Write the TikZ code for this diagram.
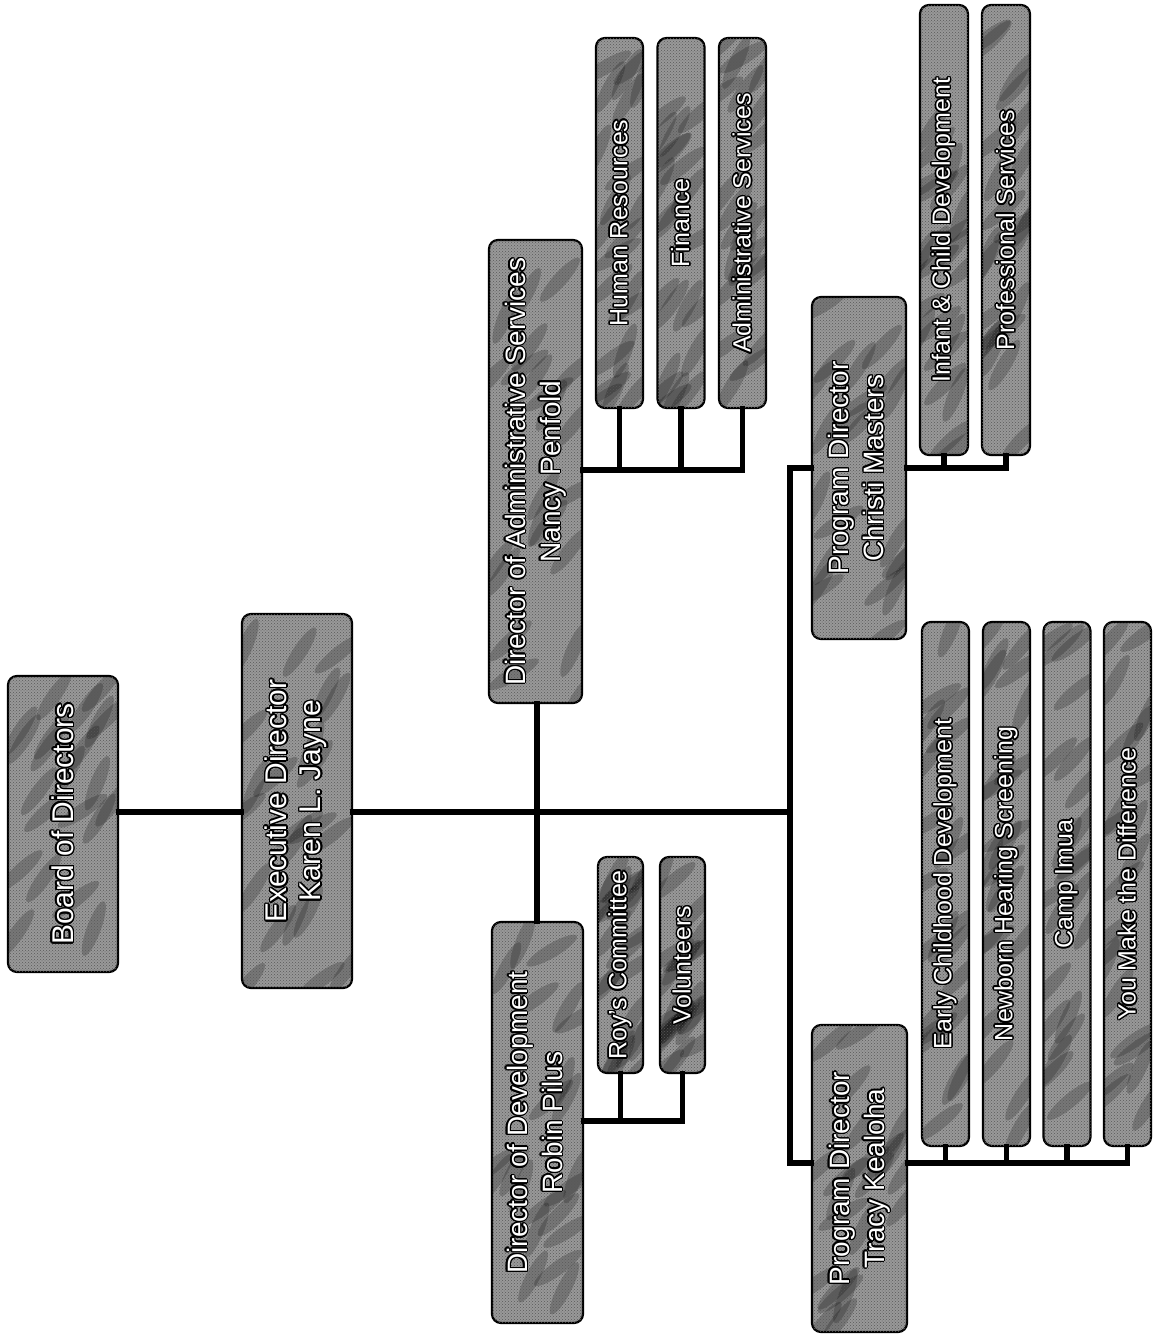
\documentclass[tikz,border=0pt]{standalone}
\usepackage{fontspec}
\setmainfont{Liberation Sans}
\usepackage{contour}
\contourlength{1.4pt}
\usetikzlibrary{patterns,calc,shapes.geometric}
\newcommand\oneline[1]{\rotatebox{90}{\contour{black}{#1}}}
\newcommand\twolines[2]{\rotatebox{90}{\begin{tabular}{@{}c@{}}\contour{black}{#1}\\\contour{black}{#2}\end{tabular}}}
\pgfmathsetseed{11}
\tikzset{
  blob/.style={ellipse, fill=black, opacity=0.22, inner sep=0pt, minimum width=58pt, minimum height=14pt, draw=none},
  granite/.style={path picture={
    \foreach \i in {1,...,22}{
      \pgfmathsetmacro{\u}{0.5+0.5*rand}
      \pgfmathsetmacro{\v}{0.5+0.5*rand}
      \pgfmathsetmacro{\ang}{50+20*rand}
      \coordinate (gp) at ($(path picture bounding box.south west)!\u!(path picture bounding box.south east)$);
      \coordinate (gq) at ($(path picture bounding box.north west)!\u!(path picture bounding box.north east)$);
      \node[blob, rotate=\ang] at ($(gp)!\v!(gq)$) {};
    }
  }},
  orgbox/.style={draw=black, line width=2.2pt, rounded corners=9pt, fill=black!40,
    granite,
    postaction={pattern=crosshatch dots, pattern color=black!65},
    text=white, inner sep=0pt, minimum width=#1},
  bigfont/.style={font=\fontsize{30}{34}\selectfont},
  midfont/.style={font=\fontsize{28}{35}\selectfont},
  subfont/.style={font=\fontsize{25}{28}\selectfont},
  conn/.style={line width=5.5pt, line cap=rect, black}
}
\begin{document}
\begin{tikzpicture}[x=1pt,y=-1pt]
\useasboundingbox (0,0) rectangle (1160,1336);
% top level
\node[orgbox=110pt, minimum height=296pt, bigfont] (board) at (63,824) {\oneline{Board of Directors}};
\node[orgbox=110pt, minimum height=374pt, bigfont] (exec) at (297,801) {\twolines{Executive Director}{Karen L. Jayne}};
% directors
\node[orgbox=93pt, minimum height=463pt, midfont] (dadmin) at (535.5,471.5) {\twolines{Director of Administrative Services}{Nancy Penfold}};
\node[orgbox=91pt, minimum height=401pt, midfont] (ddev) at (537.5,1122.5) {\twolines{Director of Development}{Robin Pilus}};
\node[orgbox=94pt, minimum height=342pt, midfont] (chris) at (859,468) {\twolines{Program Director}{Christi Masters}};
\node[orgbox=95pt, minimum height=307pt, midfont] (tracy) at (859.5,1178.5) {\twolines{Program Director}{Tracy Kealoha}};
% admin subs
\node[orgbox=47pt, minimum height=370pt, subfont] (hr) at (619.5,223) {\oneline{Human Resources}};
\node[orgbox=47pt, minimum height=370pt, subfont] (fin) at (681,223) {\oneline{Finance}};
\node[orgbox=47pt, minimum height=370pt, subfont] (aserv) at (742.5,223) {\oneline{Administrative Services}};
% development subs
\node[orgbox=45pt, minimum height=216pt, subfont] (roy) at (620.5,965) {\oneline{Roy's Committee}};
\node[orgbox=45pt, minimum height=216pt, subfont] (vol) at (682.5,965) {\oneline{Volunteers}};
% christi subs
\node[orgbox=48pt, minimum height=450pt, subfont] (infant) at (944,230) {\oneline{Infant \& Child Development}};
\node[orgbox=48pt, minimum height=450pt, subfont] (prof) at (1006,230) {\oneline{Professional Services}};
% tracy subs
\node[orgbox=47pt, minimum height=524pt, subfont] (early) at (945.5,884) {\oneline{Early Childhood Development}};
\node[orgbox=47pt, minimum height=524pt, subfont] (newborn) at (1006.5,884) {\oneline{Newborn Hearing Screening}};
\node[orgbox=47pt, minimum height=524pt, subfont] (camp) at (1067,884) {\oneline{Camp Imua}};
\node[orgbox=47pt, minimum height=524pt, subfont] (you) at (1127.5,884) {\oneline{You Make the Difference}};
% bus coordinates
\coordinate (hmain) at (790,812);
\coordinate (ctop) at (790,468);
\coordinate (tbot) at (790,1163);
\coordinate (abus) at (0,470);
\coordinate (dbus) at (0,1121);
\coordinate (tbus) at (0,1163);
% connectors
\draw[conn] (board.east |- hmain) -- (exec.west |- hmain);
\draw[conn] (exec.east |- hmain) -- (hmain);
\draw[conn] (dadmin.south -| 537,0) -- (ddev.north -| 537,0);
\draw[conn] (chris.west |- ctop) -- (ctop) -- (tbot) -- (tracy.west |- tbot);
% admin
\draw[conn] (dadmin.east |- abus) -- (aserv.south |- abus);
\foreach \n in {hr,fin,aserv} \draw[conn] (\n.south) -- (\n.south |- abus);
% development
\draw[conn] (ddev.east |- dbus) -- (vol.south |- dbus);
\foreach \n in {roy,vol} \draw[conn] (\n.south) -- (\n.south |- dbus);
% christi
\draw[conn] (chris.east |- ctop) -- (prof.south |- ctop);
\foreach \n in {infant,prof} \draw[conn] (\n.south) -- (\n.south |- ctop);
% tracy
\draw[conn] (tracy.east |- tbus) -- (you.south |- tbus);
\foreach \n in {early,newborn,camp,you} \draw[conn] (\n.south) -- (\n.south |- tbus);
\end{tikzpicture}
\end{document}
